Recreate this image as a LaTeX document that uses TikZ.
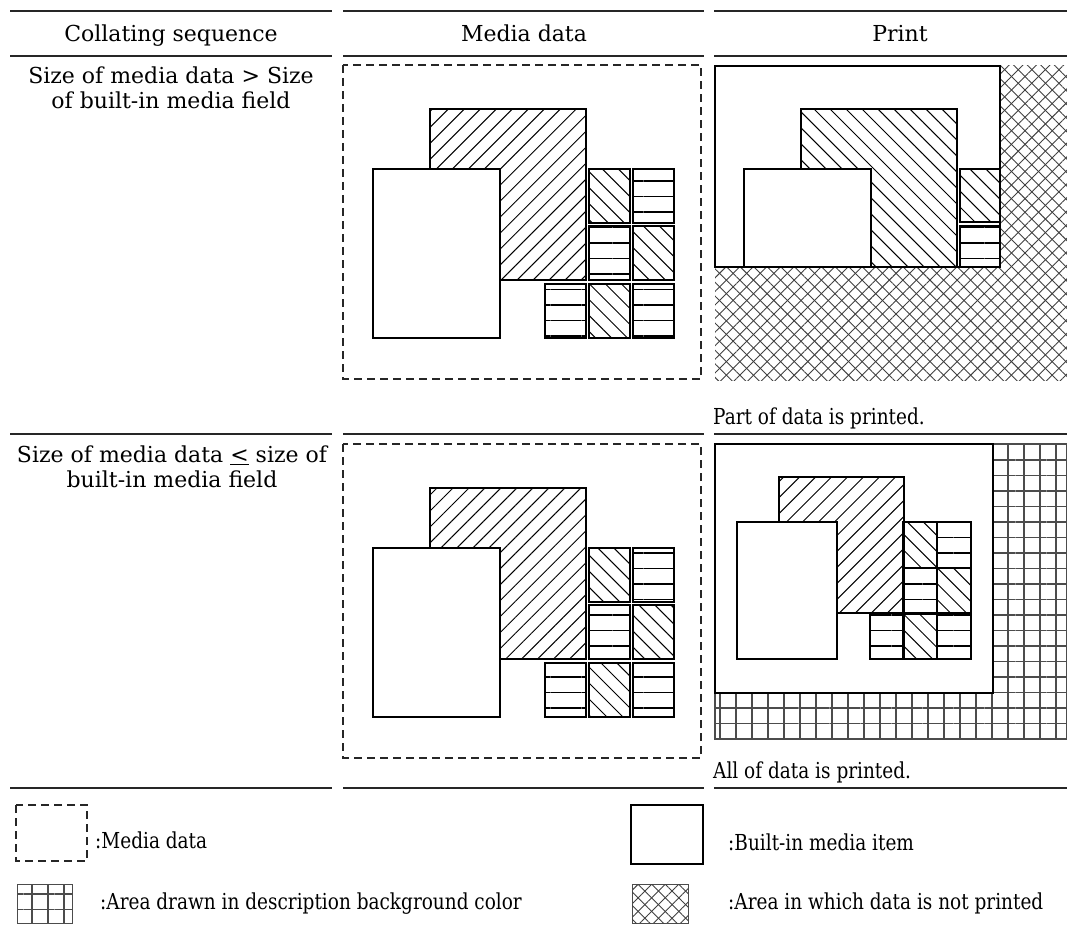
\documentclass[tikz,border=0pt]{standalone}
\usepackage{fontspec}
\setmainfont{DejaVu Serif}
\newfontfamily\narrowserif[FakeStretch=0.84]{DejaVu Serif}
\usetikzlibrary{patterns.meta}

\tikzset{
  table rule/.style={line width=2.2pt, draw=black!85},
  media frame/.style={draw=black!85, line width=1.6pt, dash pattern=on 8pt off 5pt},
  item/.style={draw=black, line width=1.6pt, fill=white},
  up hatch/.style={draw=black, line width=1.6pt,
    pattern={Lines[angle=45,distance=11.3pt,line width=1pt]}},
  down hatch/.style={draw=black, line width=1.6pt,
    pattern={Lines[angle=-45,distance=11.3pt,line width=1pt]}},
  bar hatch/.style={draw=black, line width=1.6pt,
    pattern={Lines[angle=0,distance=15.5pt,line width=1.2pt]}},
  grid area/.style={pattern={Lines[angle=0,distance=15.5pt,line width=1.4pt]},
    pattern color=black!70,
    postaction={pattern={Lines[angle=90,distance=16pt,line width=1.4pt]},
      pattern color=black!70}},
  cross area/.style={pattern={Lines[angle=45,distance=9.6pt,line width=0.9pt]},
    pattern color=black!75,
    postaction={pattern={Lines[angle=-45,distance=9.6pt,line width=0.9pt]},
      pattern color=black!75}},
  head/.style={font=\fontsize{22}{25}\selectfont, inner sep=0pt, anchor=base},
  cond/.style={font=\fontsize{22}{25}\selectfont, align=center, inner sep=0pt, anchor=north},
  note/.style={font=\narrowserif\fontsize{22}{25}\selectfont, inner sep=0pt, anchor=base west},
}

\begin{document}
\begin{tikzpicture}[x=1pt,y=-1pt]
  \useasboundingbox (0,0) rectangle (1067,925);

  % table rules
  \foreach \y in {11,56,434,788} {
    \draw[table rule] (10,\y) -- (332,\y);
    \draw[table rule] (343,\y) -- (704,\y);
    \draw[table rule] (714,\y) -- (1067,\y);
  }

  % headings
  \node[head] (hcoll)  at (171,42) {Collating sequence};
  \node[head] (hmedia) at (524,42) {Media data};
  \node[head] (hprint) at (900,42) {Print};

  % conditions
  \node[cond] (condgt) at (171,67)  {Size of media data > Size\\of built-in media field};
  \node[cond] (condle) at (172,446) {Size of media data \underline{<} size of\\built-in media field};

  % media data, both rows
  \foreach \dy in {0,379} {
    \draw[media frame] (343,65+\dy) rectangle (701,379+\dy);
    \draw[up hatch] (430,109+\dy) rectangle (586,280+\dy);
    \draw[item] (373,169+\dy) rectangle (500,338+\dy);
    \foreach \x/\y/\s in {589/169/down hatch, 633/169/bar hatch,
                          589/226/bar hatch, 633/226/down hatch,
                          545/284/bar hatch, 589/284/down hatch, 633/284/bar hatch}
      \draw[\s] (\x,\y+\dy) rectangle ++(41,54);
  }

  % print, part of data
  \fill[cross area] (715,66) rectangle (1067,380);
  \draw[item] (715,66) rectangle (1000,267);
  \begin{scope}
    \clip (715,66) rectangle (1000,267);
    \draw[down hatch] (801,109) rectangle (957,280);
    \draw[item] (744,169) rectangle (871,338);
    \draw[down hatch] (960,169) rectangle ++(41,53);
    \draw[bar hatch] (960,226) rectangle ++(41,54);
  \end{scope}
  \draw[line width=1.6pt] (715,66) rectangle (1000,267);
  \node[note] (partcap) at (713,424) {Part of data is printed.};

  % print, all of data
  \draw[grid area, draw=black!70, line width=1.4pt] (715,444) rectangle (1067,739);
  \draw[item] (715,444) rectangle (993,693);
  \draw[up hatch] (779,477) rectangle (904,613);
  \draw[item] (737,522) rectangle (837,659);
  \foreach \x/\y/\s in {903/522/down hatch, 937/522/bar hatch,
                        903/568/bar hatch, 937/568/down hatch,
                        870/613/bar hatch, 903/613/down hatch, 937/613/bar hatch}
    \draw[\s] (\x,\y) rectangle ++(34,46);
  \node[note] (allcap) at (713,778) {All of data is printed.};

  % legend
  \draw[media frame] (16,805) rectangle (87,861);
  \node[note] (lgmedia) at (95,848) {:Media data};
  \draw[item] (631,805) rectangle (703,864);
  \node[note] (lgitem) at (728,850) {:Built-in media item};
  \draw[grid area, draw=black!70, line width=1pt] (17,884) rectangle (72,923);
  \node[note] (lggrid) at (100,909) {:Area drawn in description background color};
  \draw[cross area, draw=black!70, line width=1pt] (632,884) rectangle (688,923);
  \node[note] (lgcross) at (728,909) {:Area in which data is not printed};
\end{tikzpicture}
\end{document}
